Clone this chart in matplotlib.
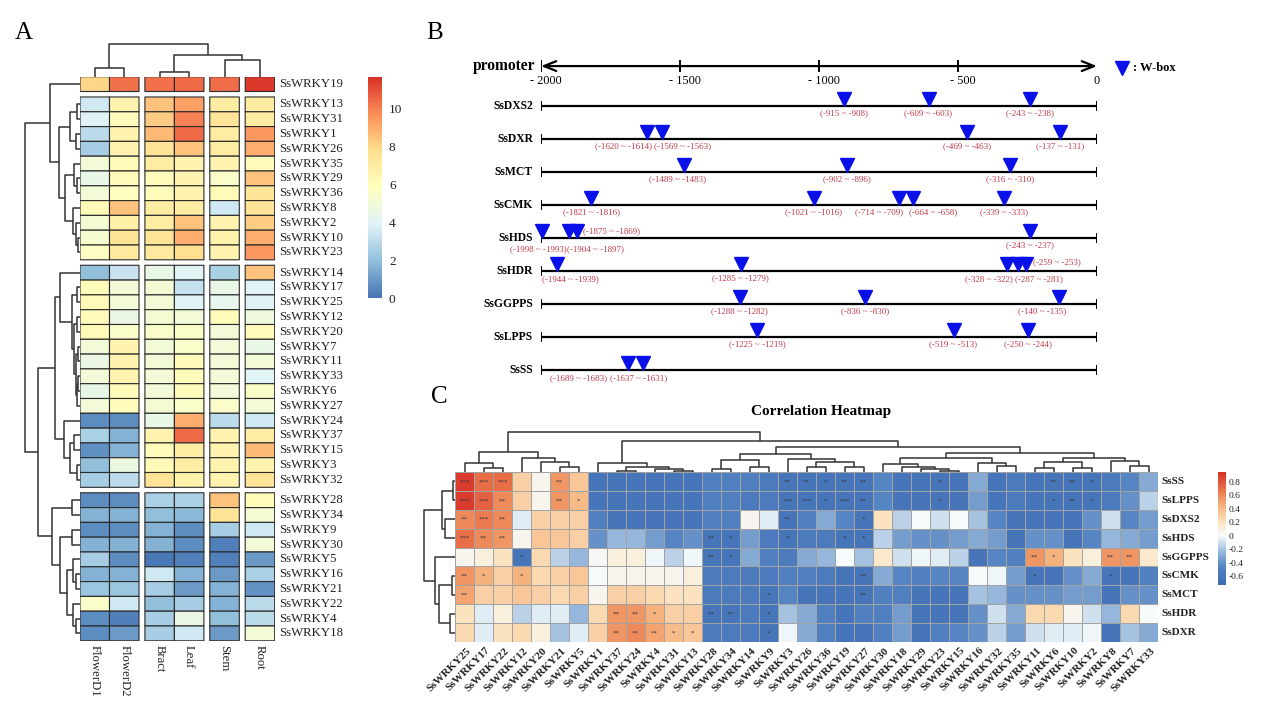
import numpy as np
import matplotlib
matplotlib.use("Agg")
import matplotlib.pyplot as plt
from matplotlib.colors import LinearSegmentedColormap, Normalize
from matplotlib.cm import ScalarMappable

plt.rcParams["font.family"] = ["Liberation Serif", "DejaVu Serif"]

W, H = 1269, 713

# ---------------- panel A: expression heatmap ----------------
tissues = ["FlowerD1", "FlowerD2", "Bract", "Leaf", "Stem", "Root"]
genes_a = ["SsWRKY19",
           "SsWRKY13", "SsWRKY31", "SsWRKY1", "SsWRKY26", "SsWRKY35", "SsWRKY29",
           "SsWRKY36", "SsWRKY8", "SsWRKY2", "SsWRKY10", "SsWRKY23",
           "SsWRKY14", "SsWRKY17", "SsWRKY25", "SsWRKY12", "SsWRKY20", "SsWRKY7",
           "SsWRKY11", "SsWRKY33", "SsWRKY6", "SsWRKY27", "SsWRKY24", "SsWRKY37",
           "SsWRKY15", "SsWRKY3", "SsWRKY32",
           "SsWRKY28", "SsWRKY34", "SsWRKY9", "SsWRKY30", "SsWRKY5", "SsWRKY16",
           "SsWRKY21", "SsWRKY22", "SsWRKY4", "SsWRKY18"]
expr = np.array([
    [8.0, 10.3, 10.3, 10.5, 10.4, 11.5],
    [3.5, 6.5, 8.5, 9.3, 7.0, 7.0],
    [4.0, 6.0, 8.3, 10.0, 7.5, 7.0],
    [3.0, 6.5, 8.7, 10.5, 7.0, 9.5],
    [2.5, 6.5, 7.5, 8.5, 7.0, 9.0],
    [5.0, 6.2, 7.0, 6.5, 6.5, 6.0],
    [4.5, 6.2, 6.0, 6.5, 5.5, 8.5],
    [5.0, 5.8, 6.0, 6.5, 6.2, 7.5],
    [6.2, 8.5, 7.0, 7.0, 3.5, 7.5],
    [5.2, 6.8, 7.0, 8.5, 6.5, 8.2],
    [5.3, 7.5, 7.5, 9.0, 6.7, 9.0],
    [5.7, 7.2, 7.2, 7.8, 6.5, 9.5],
    [2.0, 3.3, 4.5, 4.0, 2.6, 8.5],
    [6.0, 5.0, 5.2, 3.2, 4.5, 4.0],
    [6.2, 5.0, 5.0, 4.0, 4.3, 4.0],
    [6.0, 4.6, 5.2, 5.0, 6.0, 4.8],
    [6.2, 5.5, 5.5, 5.6, 5.0, 6.0],
    [5.0, 6.5, 5.0, 5.5, 5.0, 4.5],
    [4.6, 6.5, 5.0, 6.0, 5.0, 5.0],
    [5.0, 6.5, 5.0, 6.0, 5.0, 4.0],
    [4.5, 6.0, 5.0, 6.0, 5.0, 5.6],
    [5.0, 6.0, 5.2, 5.5, 5.5, 5.0],
    [0.6, 0.6, 4.5, 9.0, 3.0, 3.5],
    [2.6, 1.6, 6.5, 10.5, 6.5, 7.0],
    [0.7, 1.6, 6.0, 7.0, 6.5, 8.7],
    [2.0, 4.7, 6.2, 7.0, 6.5, 6.5],
    [2.5, 3.0, 7.5, 6.7, 6.5, 7.5],
    [0.6, 0.6, 2.6, 2.6, 8.5, 6.2],
    [1.6, 1.6, 2.0, 1.8, 7.5, 5.2],
    [0.6, 0.6, 1.6, 0.6, 2.5, 3.5],
    [1.6, 1.6, 1.6, 0.6, 0.3, 5.0],
    [2.5, 0.6, 0.1, 0.3, 0.3, 1.0],
    [1.6, 1.6, 3.5, 1.6, 1.0, 2.6],
    [2.2, 2.2, 2.5, 1.0, 1.6, 0.8],
    [5.5, 3.5, 2.0, 2.5, 1.6, 3.0],
    [0.6, 0.3, 2.5, 4.6, 2.0, 3.0],
    [0.6, 1.0, 2.5, 3.5, 1.0, 5.0],
])
row_groups_a = [1, 11, 15, 10]
col_groups_a = [2, 2, 1, 1]

# hierarchical trees: (left, right, merge height in px), leaves are display indices
tree_rows_a = (
    (0, (((1, 2, 3), (3, 4, 4), 10),
         ((5, (6, 7, 3), 6), (8, (9, (10, 11, 2), 4), 7), 15), 21), 30),
    (((12, ((13, 14, 3), ((15, 16, 3), ((17, 18, 2), ((19, 20, 2), 21, 3), 4), 6), 8), 20),
      (22, ((23, 24, 6), (25, 26, 3), 10), 16), 25),
     ((27, 28, 8), ((29, 30, 8), ((31, (32, 33, 4), 7), (34, (35, 36, 4), 7), 13), 20), 28), 42),
    55)
tree_cols_a = ((0, 1, 9), ((2, 3, 4.4), (4, 5, 16.7), 21.7), 32.4)

# ---------------- panel B: promoter W-box sites ----------------
promoter_genes = ["SsDXS2", "SsDXR", "SsMCT", "SsCMK", "SsHDS", "SsHDR",
                  "SsGGPPS", "SsLPPS", "SsSS"]
wbox_sites = [
    [(-915, -908), (-609, -603), (-243, -238)],
    [(-1620, -1614), (-1569, -1563), (-469, -463), (-137, -131)],
    [(-1489, -1483), (-902, -896), (-316, -310)],
    [(-1821, -1816), (-1021, -1016), (-714, -709), (-664, -658), (-339, -333)],
    [(-1998, -1993), (-1904, -1897), (-1875, -1869), (-243, -237)],
    [(-1944, -1939), (-1285, -1279), (-328, -322), (-287, -281), (-259, -253)],
    [(-1288, -1282), (-836, -830), (-140, -135)],
    [(-1225, -1219), (-519, -513), (-250, -244)],
    [(-1689, -1683), (-1637, -1631)],
]
axis_ticks_b = [-2000, -1500, -1000, -500, 0]

# ---------------- panel C: correlation heatmap ----------------
corr_rows = ["SsSS", "SsLPPS", "SsDXS2", "SsHDS", "SsGGPPS", "SsCMK", "SsMCT", "SsHDR", "SsDXR"]
corr_cols = ["SsWRKY25", "SsWRKY17", "SsWRKY22", "SsWRKY12", "SsWRKY20", "SsWRKY21",
             "SsWRKY5", "SsWRKY1", "SsWRKY37", "SsWRKY24", "SsWRKY4", "SsWRKY31",
             "SsWRKY13", "SsWRKY28", "SsWRKY34", "SsWRKY14", "SsWRKY9", "SsWRKY3",
             "SsWRKY26", "SsWRKY36", "SsWRKY19", "SsWRKY27", "SsWRKY30", "SsWRKY18",
             "SsWRKY29", "SsWRKY23", "SsWRKY15", "SsWRKY16", "SsWRKY32", "SsWRKY35",
             "SsWRKY11", "SsWRKY6", "SsWRKY10", "SsWRKY2", "SsWRKY8", "SsWRKY7", "SsWRKY33"]
corr = np.array([
    [0.90, 0.70, 0.70, 0.30, 0.05, 0.55, 0.35, -0.60, -0.60, -0.60, -0.60, -0.60, -0.60, -0.50, -0.50, -0.50, -0.55, -0.60, -0.60, -0.60, -0.60, -0.60, -0.45, -0.60, -0.60, -0.60, -0.60, -0.30, -0.60, -0.55, -0.60, -0.60, -0.60, -0.60, -0.55, -0.45, -0.30],
    [0.90, 0.75, 0.60, 0.30, 0.05, 0.55, 0.40, -0.60, -0.60, -0.60, -0.60, -0.60, -0.60, -0.50, -0.50, -0.55, -0.55, -0.60, -0.60, -0.60, -0.60, -0.60, -0.45, -0.60, -0.60, -0.60, -0.60, -0.35, -0.60, -0.55, -0.60, -0.60, -0.60, -0.60, -0.55, -0.40, -0.15],
    [0.60, 0.65, 0.60, -0.05, 0.30, 0.30, 0.30, -0.50, -0.60, -0.60, -0.60, -0.60, -0.60, -0.50, -0.50, 0.05, -0.05, -0.60, -0.50, -0.30, -0.45, -0.60, 0.20, -0.15, 0.00, -0.10, 0.00, -0.20, -0.45, -0.60, -0.60, -0.60, -0.60, -0.40, -0.10, -0.45, -0.35],
    [0.70, 0.60, 0.55, 0.05, 0.35, 0.35, 0.30, -0.40, -0.25, -0.25, -0.35, -0.45, -0.40, -0.60, -0.60, -0.35, -0.55, -0.60, -0.55, -0.55, -0.60, -0.60, -0.15, -0.35, -0.40, -0.40, -0.35, -0.30, -0.35, -0.60, -0.40, -0.40, -0.60, -0.45, -0.25, -0.30, -0.35],
    [0.05, 0.10, 0.20, -0.60, 0.25, -0.15, -0.25, 0.02, 0.10, 0.10, -0.02, -0.15, -0.02, -0.60, -0.60, -0.30, -0.50, -0.55, -0.30, -0.25, 0.00, -0.20, 0.15, -0.10, -0.02, -0.05, -0.15, -0.60, -0.45, -0.50, 0.55, 0.45, 0.20, 0.10, 0.55, 0.55, 0.15],
    [0.55, 0.45, 0.30, 0.45, 0.25, 0.30, 0.35, 0.00, 0.05, 0.05, 0.05, 0.05, 0.10, -0.55, -0.55, -0.55, -0.55, -0.50, -0.50, -0.55, -0.60, -0.60, -0.30, -0.45, -0.50, -0.45, -0.45, 0.00, -0.02, -0.35, -0.60, -0.60, -0.40, -0.30, -0.60, -0.60, -0.50],
    [0.50, 0.30, 0.30, 0.35, 0.30, 0.25, 0.30, 0.05, 0.30, 0.30, 0.25, 0.20, 0.20, -0.55, -0.55, -0.55, -0.60, -0.45, -0.60, -0.60, -0.60, -0.60, -0.50, -0.50, -0.60, -0.60, -0.60, -0.20, -0.25, -0.40, -0.40, -0.40, -0.35, -0.35, -0.60, -0.40, -0.40],
    [0.20, -0.05, 0.10, -0.15, -0.05, -0.05, -0.25, 0.25, 0.55, 0.55, 0.45, 0.30, 0.30, -0.60, -0.60, -0.55, -0.60, -0.20, -0.30, -0.50, -0.60, -0.50, -0.50, -0.35, -0.60, -0.60, -0.60, -0.40, -0.10, -0.30, 0.25, 0.25, 0.05, -0.10, -0.25, 0.25, 0.00],
    [0.25, -0.05, 0.20, 0.25, 0.10, -0.20, -0.05, 0.30, 0.55, 0.60, 0.50, 0.40, 0.35, -0.55, -0.55, -0.55, -0.60, -0.02, -0.30, -0.50, -0.60, -0.60, -0.50, -0.35, -0.60, -0.50, -0.45, -0.40, -0.15, -0.35, -0.10, -0.05, -0.05, -0.02, -0.60, -0.20, -0.30],
])
signif = [
    {0: "***", 1: "***", 2: "***", 5: "**", 17: "**", 18: "**", 19: "*", 20: "**", 21: "**", 25: "*", 31: "**", 32: "**", 33: "*"},
    {0: "***", 1: "***", 2: "**", 5: "**", 6: "*", 17: "***", 18: "***", 19: "*", 20: "***", 21: "**", 25: "*", 31: "*", 32: "**", 33: "*"},
    {0: "**", 1: "***", 2: "**", 17: "**", 21: "*"},
    {0: "***", 1: "**", 2: "**", 13: "**", 14: "*", 17: "*", 20: "*", 21: "*"},
    {3: "*", 13: "**", 14: "*", 30: "**", 31: "*", 34: "**", 35: "**"},
    {0: "**", 1: "*", 3: "*", 21: "**", 30: "*", 34: "*"},
    {0: "**", 16: "*", 21: "**"},
    {8: "**", 9: "**", 10: "*", 13: "**", 14: "**", 16: "*"},
    {8: "**", 9: "**", 10: "**", 11: "*", 12: "*", 16: "*"},
]
tree_rows_c = (((0, 1, 2), (2, 3, 10), 13), (4, ((5, 6, 2.5), (7, 8, 5), 16), 20), 31)
tree_cols_c = (
    ((0, (1, 2, 4), 9), (3, (4, (5, 6, 5), 10), 14), 20),
    ((7, ((8, 9, 1.5), (10, (11, 12, 1.5), 3), 5), 9),
     ((((13, 14, 3), (15, 16, 5), 12), (17, ((18, 19, 5), (20, 21, 5), 10), 13), 18),
      (((22, (23, (24, (25, 26, 1.5), 3), 5), 8), (27, (28, 29, 6), 9), 14),
       (((30, 31, 4), (32, 33, 4), 10), (34, (35, 36, 6), 11), 14), 19), 25), 31),
    40)

# ---------------- helpers ----------------
fig = plt.figure(figsize=(W / 100, H / 100), dpi=100)


def px_axes(x0, y0, x1, y1):
    ax = fig.add_axes([x0 / W, 1 - y1 / H, (x1 - x0) / W, (y1 - y0) / H])
    ax.set_axis_off()
    return ax


def draw_tree(ax, node, leaf_pos, orient, color="#333333", lw=1.1):
    if isinstance(node, int):
        return leaf_pos[node], 0.0
    left, right, h = node
    pl, hl = draw_tree(ax, left, leaf_pos, orient, color, lw)
    pr, hr = draw_tree(ax, right, leaf_pos, orient, color, lw)
    a = [pl, pl, pr, pr]
    b = [hl, h, h, hr]
    if orient == "top":
        ax.plot(a, b, color=color, lw=lw, clip_on=False, solid_capstyle="butt")
    else:
        ax.plot(b, a, color=color, lw=lw, clip_on=False, solid_capstyle="butt")
    return (pl + pr) / 2, h


def edges_with_gaps(groups, gap):
    e = [0.0]
    is_gap = []
    for gi, n in enumerate(groups):
        for _ in range(n):
            e.append(e[-1] + 1)
            is_gap.append(False)
        if gi < len(groups) - 1:
            e.append(e[-1] + gap)
            is_gap.append(True)
    return np.array(e), np.array(is_gap)


# ---------------- draw panel A ----------------
cmap_a = LinearSegmentedColormap.from_list(
    "pheat", ["#4575B4", "#91BFDB", "#E0F3F8", "#FFFFBF", "#FEE090", "#FC8D59", "#D73027"])
norm_a = Normalize(0, 11.7)

xe, xgap = edges_with_gaps(col_groups_a, 0.2)
ye, ygap = edges_with_gaps(row_groups_a, 0.37)
grid = np.full((len(ygap), len(xgap)), np.nan)
grid[np.ix_(~ygap, ~xgap)] = expr
xc = ((xe[:-1] + xe[1:]) / 2)[~xgap]
yc = ((ye[:-1] + ye[1:]) / 2)[~ygap]

axA = px_axes(80, 76.7, 274.7, 640.8)
axA.pcolor(xe, ye, np.ma.masked_invalid(grid), cmap=cmap_a, norm=norm_a,
           edgecolors="#2a2a2a", linewidth=0.8)
axA.set_xlim(0, xe[-1])
axA.set_ylim(ye[-1], 0)
for y, g in zip(yc, genes_a):
    axA.text(xe[-1] + 0.15, y, g, va="center", ha="left", fontsize=9.2, color="#222222")
for x, t in zip(xc, tissues):
    axA.text(x, ye[-1] + 0.25, t, rotation=270, va="top", ha="center",
             fontsize=9.2, color="#222222")

axAd = px_axes(20, 76.7, 80, 640.8)
axAd.set_ylim(ye[-1], 0)
axAd.set_xlim(60, 0)
draw_tree(axAd, tree_rows_a, yc, "left")

axAc = px_axes(80, 44, 274.7, 76.7)
axAc.set_xlim(0, xe[-1])
axAc.set_ylim(0, 32.7)
draw_tree(axAc, tree_cols_a, xc, "top")

caxA = fig.add_axes([368 / W, 1 - 298 / H, 14 / W, (298 - 76.7) / H])
cbA = fig.colorbar(ScalarMappable(norm=norm_a, cmap=cmap_a), cax=caxA)
cbA.outline.set_visible(False)
cbA.set_ticks([0, 2, 4, 6, 8, 10])
caxA.tick_params(length=0, labelsize=9.5, pad=5, labelcolor="#222222")

# ---------------- draw panel B ----------------
axB = px_axes(541, 50, 1097, 390)
axB.set_xlim(-2000, 0)
axB.set_ylim(8.606, -1.697)
bp_per_px = 2000 / 556
y_prom = -1.21

axB.annotate("", xy=(-2000, y_prom), xytext=(0, y_prom),
             arrowprops=dict(arrowstyle="<->,head_length=0.55,head_width=0.22",
                             lw=1.6, color="black", mutation_scale=16,
                             shrinkA=0, shrinkB=0), annotation_clip=False)
for t in axis_ticks_b:
    if t > -2000 and t < 0:
        axB.plot([t, t], [y_prom - 0.14, y_prom + 0.14], color="black", lw=1.4)
    lab = "0" if t == 0 else "- %d" % (-t)
    dx = 0 if t == 0 else 5 * bp_per_px
    axB.text(t + dx, y_prom + 0.45, lab, ha="center", va="center", fontsize=8.8)
axB.plot([-2000, -2000], [y_prom - 0.14, y_prom + 0.14], color="black", lw=1.4)
axB.text(-2000 - 6 * bp_per_px, y_prom, "promoter", ha="right", va="center",
         fontsize=11.2, fontweight="bold")

# label placement: (ha, dx px, dy rows); default centred just below the line
label_style = {
    (1, 0): ("right", 5, 0.21), (1, 1): ("left", -8, 0.21),
    (2, 0): ("center", -6, 0.21),
    (3, 2): ("right", 4, 0.21), (3, 3): ("left", -4, 0.21),
    (4, 0): ("right", 24, 0.33), (4, 1): ("left", -2, 0.33), (4, 2): ("left", 6, -0.2),
    (5, 0): ("center", 13, 0.24), (5, 2): ("right", 6, 0.24),
    (5, 3): ("left", -3, 0.24), (5, 4): ("left", 7, -0.28),
    (6, 2): ("right", 7, 0.21),
    (8, 0): ("right", -21, 0.24), (8, 1): ("left", -33, 0.24),
}
for i, (gname, sites) in enumerate(zip(promoter_genes, wbox_sites)):
    axB.plot([-2000, 0], [i, i], color="black", lw=1.6, solid_capstyle="butt")
    for xe_ in (-2000, 0):
        axB.plot([xe_, xe_], [i - 0.13, i + 0.13], color="black", lw=1.4)
    axB.text(-2000 - 8 * bp_per_px, i, gname, ha="right", va="center",
             fontsize=8.4, fontweight="bold")
    mids = [(s + e) / 2 for s, e in sites]
    axB.plot(mids, [i - 0.225] * len(mids), ls="none", marker="v", ms=9.5,
             color="#0a10e8", mec="#0a10e8", clip_on=False)
    for k, ((s, e), m) in enumerate(zip(sites, mids)):
        ha, dx, dy = label_style.get((i, k), ("center", 0, 0.21))
        axB.text(m + dx * bp_per_px, i + dy, "(%d ~ %d)" % (s, e), ha=ha, va="center",
                 fontsize=6.5, color="#c23b4b")

axB.plot([25 * bp_per_px], [y_prom + 0.06], ls="none", marker="v", ms=9.5,
         color="#0a10e8", clip_on=False)
axB.text(36 * bp_per_px, y_prom + 0.06, ": W-box", ha="left", va="center",
         fontsize=9, fontweight="bold")

# ---------------- draw panel C ----------------
vmin_c, vmax_c = -0.73, 0.95
stops = [(-0.73, "#3a69b1"), (-0.45, "#5585c2"), (-0.2, "#a6c3e1"), (0.0, "#f6fbfb"),
         (0.2, "#fbe3bf"), (0.45, "#f6b27c"), (0.65, "#eb7b4f"), (0.95, "#d62f27")]
cmap_c = LinearSegmentedColormap.from_list(
    "corr", [((v - vmin_c) / (vmax_c - vmin_c), c) for v, c in stops])
norm_c = Normalize(vmin_c, vmax_c)

axC = px_axes(455, 472, 1158, 642)
axC.pcolormesh(np.arange(len(corr_cols) + 1), np.arange(len(corr_rows) + 1), corr,
               cmap=cmap_c, norm=norm_c, edgecolors="#a3a3a3", linewidth=0.7)
axC.set_xlim(0, len(corr_cols))
axC.set_ylim(len(corr_rows), 0)
for r, d in enumerate(signif):
    for c, s in d.items():
        axC.text(c + 0.5, r + 0.52, s, ha="center", va="center", fontsize=5, color="#3a3a3a")
for r, name in enumerate(corr_rows):
    axC.text(len(corr_cols) + 0.2, r + 0.5, name, ha="left", va="center",
             fontsize=8, fontweight="bold", color="#222222")
for c, name in enumerate(corr_cols):
    axC.text(c + 0.6, len(corr_rows) + 0.2, name, ha="right", va="top", rotation=45,
             rotation_mode="anchor", fontsize=8, fontweight="bold", color="#222222")

axCr = px_axes(420, 472, 455, 642)
axCr.set_ylim(len(corr_rows), 0)
axCr.set_xlim(35, 0)
draw_tree(axCr, tree_rows_c, np.arange(len(corr_rows)) + 0.5, "left")

axCc = px_axes(455, 428, 1158, 472)
axCc.set_xlim(0, len(corr_cols))
axCc.set_ylim(0, 44)
draw_tree(axCc, tree_cols_c, np.arange(len(corr_cols)) + 0.5, "top")

caxC = fig.add_axes([1218 / W, 1 - 585 / H, 8 / W, (585 - 471.7) / H])
cbC = fig.colorbar(ScalarMappable(norm=norm_c, cmap=cmap_c), cax=caxC)
cbC.outline.set_visible(False)
cbC.set_ticks([-0.6, -0.4, -0.2, 0, 0.2, 0.4, 0.6, 0.8])
cbC.set_ticklabels(["-0.6", "-0.4", "-0.2", "0", "0.2", "0.4", "0.6", "0.8"])
caxC.tick_params(length=0, labelsize=6.8, pad=2, labelcolor="#222222")

fig.text(821 / W, 1 - 412 / H, "Correlation Heatmap", ha="center", va="center",
         fontsize=11, fontweight="bold")

# panel letters
fig.text(15 / W, 1 - 22 / H, "A", ha="left", va="top", fontsize=18)
fig.text(426 / W, 1 - 22 / H, "B", ha="left", va="top", fontsize=18)
fig.text(431 / W, 1 - 386 / H, "C", ha="left", va="top", fontsize=18)

fig.savefig("out.png", dpi=100)
